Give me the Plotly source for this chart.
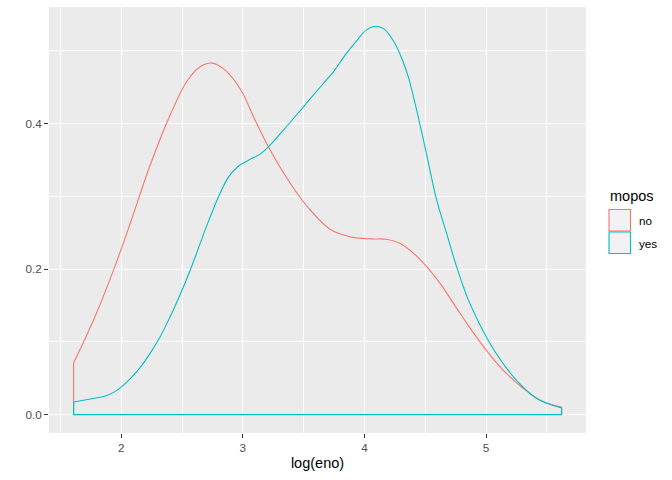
import plotly.graph_objects as go

# ---- data ----
no_x = [1.608, 1.772, 1.937, 2.074, 2.238, 2.403, 2.54, 2.649, 2.745, 2.85, 2.98, 3.10, 3.21, 3.389,
        3.55, 3.717, 3.88, 4.05, 4.18, 4.292, 4.402, 4.512, 4.621, 4.758, 4.861, 5.0, 5.137, 5.3,
        5.466, 5.622]
no_y = [0.071, 0.130, 0.199, 0.263, 0.343, 0.412, 0.458, 0.478, 0.483, 0.474, 0.447, 0.405, 0.368, 0.318,
        0.282, 0.2547, 0.2445, 0.2415, 0.241, 0.2355, 0.222, 0.2034, 0.1807, 0.1464, 0.121, 0.089, 0.062,
        0.037, 0.018, 0.0105]

yes_x = [1.608, 1.745, 1.855, 1.937, 2.006, 2.088, 2.156, 2.238, 2.32, 2.403, 2.471, 2.54, 2.622, 2.704,
         2.80, 2.88, 2.96, 3.05, 3.142, 3.21, 3.334, 3.498, 3.662, 3.745, 3.841, 3.937, 4.019, 4.087,
         4.16, 4.237, 4.306, 4.361, 4.416, 4.498, 4.594, 4.676, 4.758, 4.854, 4.97, 5.08, 5.246, 5.41, 5.622]
yes_y = [0.0174, 0.0215, 0.025, 0.0306, 0.0389, 0.052, 0.065, 0.0846, 0.107, 0.135, 0.160, 0.187, 0.223, 0.260,
         0.2995, 0.326, 0.341, 0.350, 0.358, 0.368, 0.391, 0.423, 0.455, 0.471, 0.494, 0.514, 0.529, 0.5336,
         0.530, 0.514, 0.490, 0.464, 0.428, 0.368, 0.295, 0.249, 0.2034, 0.158, 0.117, 0.085, 0.048, 0.023, 0.0092]

groups = ["no", "yes"]
colors = ["#F8766D", "#00BFC4"]
x_ticks = [2, 3, 4, 5]
y_ticks = [0.0, 0.2, 0.4]
y_tick_text = ["0.0", "0.2", "0.4"]

FONT = "Liberation Sans, Arial, sans-serif"

fig = go.Figure()
for name, xs, ys, col in [("no", no_x, no_y, colors[0]), ("yes", yes_x, yes_y, colors[1])]:
    fig.add_trace(go.Scatter(x=xs, y=ys, mode="lines",
                             line=dict(color=col, width=1.1, shape="spline", smoothing=1.0),
                             showlegend=False, hoverinfo="skip"))
    if name == "no":
        # side segments only (baseline is covered by the later group)
        cx = [xs[-1], xs[-1], None, xs[0], xs[0]]
        cy = [ys[-1], 0, None, 0, ys[0]]
    else:
        cx = [xs[-1], xs[-1], xs[0], xs[0]]
        cy = [ys[-1], 0, 0, ys[0]]
    fig.add_trace(go.Scatter(x=cx, y=cy, mode="lines", line=dict(color=col, width=1.1),
                             showlegend=False, hoverinfo="skip"))

L, R, T, B = 49, 86, 7, 47
W, H = 672, 480
pw = W - L - R
ph = H - T - B

def px2paper_x(px):
    return (px - L) / pw

def px2paper_y(py):
    return (H - B - py) / ph

shapes = []
annotations = []
annotations.append(dict(x=px2paper_x(608), y=px2paper_y(196), xref="paper", yref="paper", text="mopos",
                        showarrow=False, xanchor="left", yanchor="middle",
                        font=dict(family=FONT, size=14.5, color="#000000")))
key_tops = [209.5, 232]
for g, col, top in zip(groups, colors, key_tops):
    shapes.append(dict(type="rect", xref="paper", yref="paper",
                       x0=px2paper_x(609), x1=px2paper_x(630.5),
                       y0=px2paper_y(top), y1=px2paper_y(top + 21.5),
                       line=dict(color=col, width=1.1), fillcolor="#F2F2F2", layer="above"))
    annotations.append(dict(x=px2paper_x(637), y=px2paper_y(top + 11.5), xref="paper", yref="paper", text=g,
                            showarrow=False, xanchor="left", yanchor="middle",
                            font=dict(family=FONT, size=11.7, color="#000000")))

fig.update_layout(
    width=W, height=H,
    margin=dict(l=L, r=R, t=T, b=B, pad=0, autoexpand=False),
    paper_bgcolor="white", plot_bgcolor="#EBEBEB",
    font=dict(family=FONT),
    showlegend=False,
    shapes=shapes, annotations=annotations,
    xaxis=dict(range=[1.4055, 5.8225], tickvals=x_ticks, ticktext=[str(v) for v in x_ticks],
               showgrid=True, gridcolor="white", gridwidth=1.1, zeroline=False, automargin=False,
               minor=dict(dtick=0.5, tick0=0, showgrid=True, gridcolor="white", gridwidth=0.55, ticklen=0),
               ticks="outside", ticklen=4, tickcolor="#333333", tickwidth=1.1,
               tickfont=dict(family=FONT, size=11.7, color="#4D4D4D"),
               title=dict(text="log(eno)", font=dict(family=FONT, size=14.5, color="#000000"), standoff=4),
               showline=False),
    yaxis=dict(range=[-0.0252, 0.5601], tickvals=y_ticks, ticktext=y_tick_text,
               showgrid=True, gridcolor="white", gridwidth=1.1, zeroline=False, automargin=False,
               minor=dict(dtick=0.1, tick0=0, showgrid=True, gridcolor="white", gridwidth=0.55, ticklen=0),
               ticks="outside", ticklen=4, tickcolor="#333333", tickwidth=1.1,
               tickfont=dict(family=FONT, size=11.7, color="#4D4D4D"),
               showline=False),
)

fig.write_html("out.html", config={"displayModeBar": False},
               post_script="document.body.style.margin='0';document.body.style.padding='0';")
